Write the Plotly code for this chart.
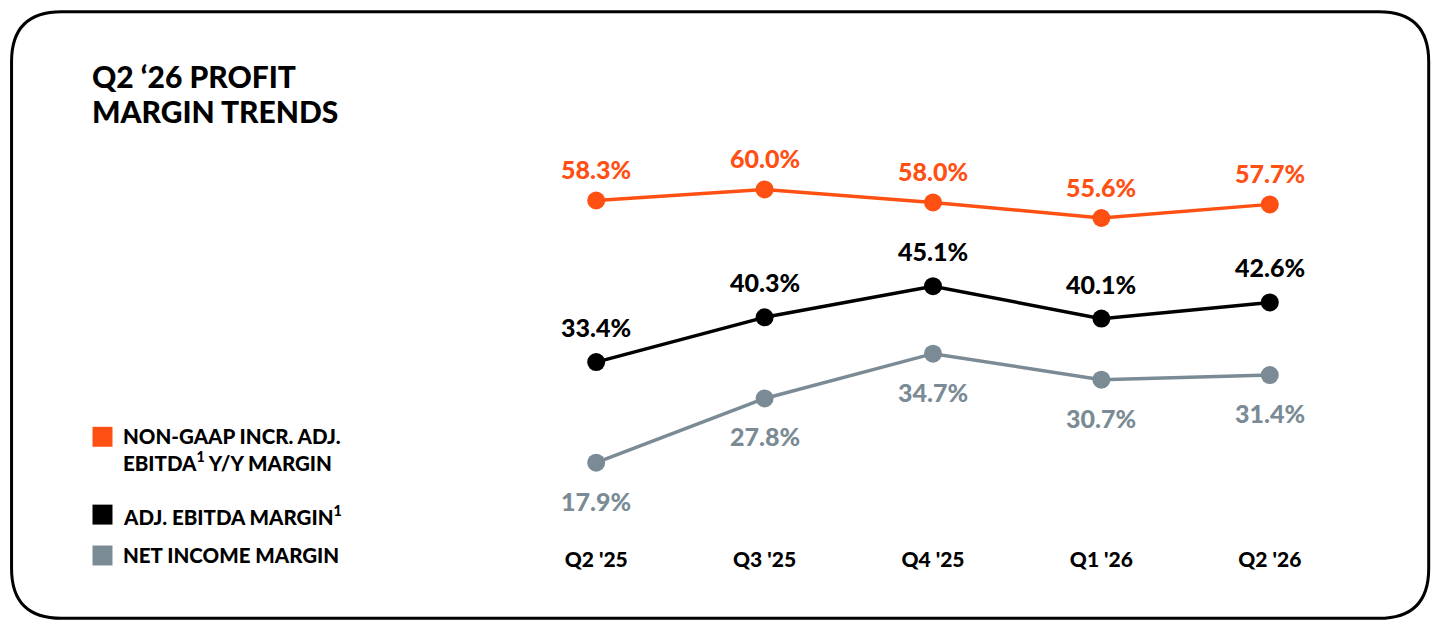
import plotly.graph_objects as go

quarters = ["Q2 '25", "Q3 '25", "Q4 '25", "Q1 '26", "Q2 '26"]
incr_ebitda_margin = [58.3, 60.0, 58.0, 55.6, 57.7]
adj_ebitda_margin = [33.4, 40.3, 45.1, 40.1, 42.6]
net_income_margin = [17.9, 27.8, 34.7, 30.7, 31.4]

series_names = [
    "NON-GAAP INCR. ADJ.<br>EBITDA<sup>1</sup> Y/Y MARGIN",
    "ADJ. EBITDA MARGIN<sup>1</sup>",
    "NET INCOME MARGIN",
]
title_lines = ["Q2 \u201826 PROFIT", "MARGIN TRENDS"]

ORANGE = "#FF5014"
BLACK = "#000000"
GREY = "#7B8B95"
FONT = "Lato"

# the page puts the figure 8px in from the top-left corner
OX, OY = 8, 8
W, H = 1456 - 2 * OX, 630 - 2 * OY
# plot area, in page pixels
L, R = 511.75, 1354.25
T, B = 156.5, 514.4


def px2x(px):
    return (px - L) / (R - L)


def px2y(py):
    return (B - py) / (B - T)


x = list(range(len(quarters)))

fig = go.Figure()
series = [
    (incr_ebitda_margin, ORANGE, 31),
    (adj_ebitda_margin, BLACK, 35),
    (net_income_margin, GREY, -38),
]
for (vals, col, shift), name in zip(series, series_names):
    fig.add_trace(go.Scatter(
        x=x, y=vals, mode="lines+markers", name=name,
        line=dict(color=col, width=3.5),
        marker=dict(color=col, size=18),
        hoverinfo="skip", showlegend=False,
    ))
    for xi, v in zip(x, vals):
        fig.add_annotation(
            x=xi, y=v, text=f"{v:.1f}%", showarrow=False, yshift=shift,
            font=dict(family=FONT, size=25, color=col, weight=900),
        )

# title, one annotation per line
for line, ty in zip(title_lines, [75, 110]):
    fig.add_annotation(
        xref="paper", yref="paper", x=px2x(89), y=px2y(ty),
        xanchor="left", yanchor="middle", showarrow=False, text=line,
        font=dict(family=FONT, size=30, color=BLACK, weight=900),
    )

# legend (squares + labels)
legend_rows = [(437, ORANGE), (515, BLACK), (556, GREY)]
for (sq_y, col), name in zip(legend_rows, series_names):
    fig.add_shape(
        type="rect", xref="paper", yref="paper",
        x0=px2x(92), x1=px2x(112), y0=px2y(sq_y - 10), y1=px2y(sq_y + 10),
        fillcolor=col, line=dict(width=0),
    )
    fig.add_annotation(
        xref="paper", yref="paper", x=px2x(121), y=px2y(sq_y - 15),
        xanchor="left", yanchor="top", align="left", showarrow=False,
        text=name, font=dict(family=FONT, size=20.5, color=BLACK, weight=900),
    )

# rounded border
x0, x1, y0, y1, r = 11, 1429, 11, 619, 50
X = px2x
Y = px2y
path = (
    f"M {X(x0 + r)},{Y(y0)} L {X(x1 - r)},{Y(y0)} "
    f"Q {X(x1)},{Y(y0)} {X(x1)},{Y(y0 + r)} "
    f"L {X(x1)},{Y(y1 - r)} Q {X(x1)},{Y(y1)} {X(x1 - r)},{Y(y1)} "
    f"L {X(x0 + r)},{Y(y1)} Q {X(x0)},{Y(y1)} {X(x0)},{Y(y1 - r)} "
    f"L {X(x0)},{Y(y0 + r)} Q {X(x0)},{Y(y0)} {X(x0 + r)},{Y(y0)} Z"
)
fig.add_shape(type="path", xref="paper", yref="paper", path=path,
              line=dict(color=BLACK, width=3), layer="below")

fig.update_layout(
    width=W, height=H,
    margin=dict(l=L - OX, r=W + OX - R, t=T - OY, b=H + OY - B),
    paper_bgcolor="white", plot_bgcolor="white",
    xaxis=dict(
        range=[-0.5, 4.5], tickvals=x, ticktext=quarters,
        showgrid=False, zeroline=False, showline=False, ticks="",
        ticklabelstandoff=31,
        tickfont=dict(family=FONT, size=21, color=BLACK, weight=900),
    ),
    yaxis=dict(range=[10, 65], visible=False),
)

fig.write_html("out.html")
